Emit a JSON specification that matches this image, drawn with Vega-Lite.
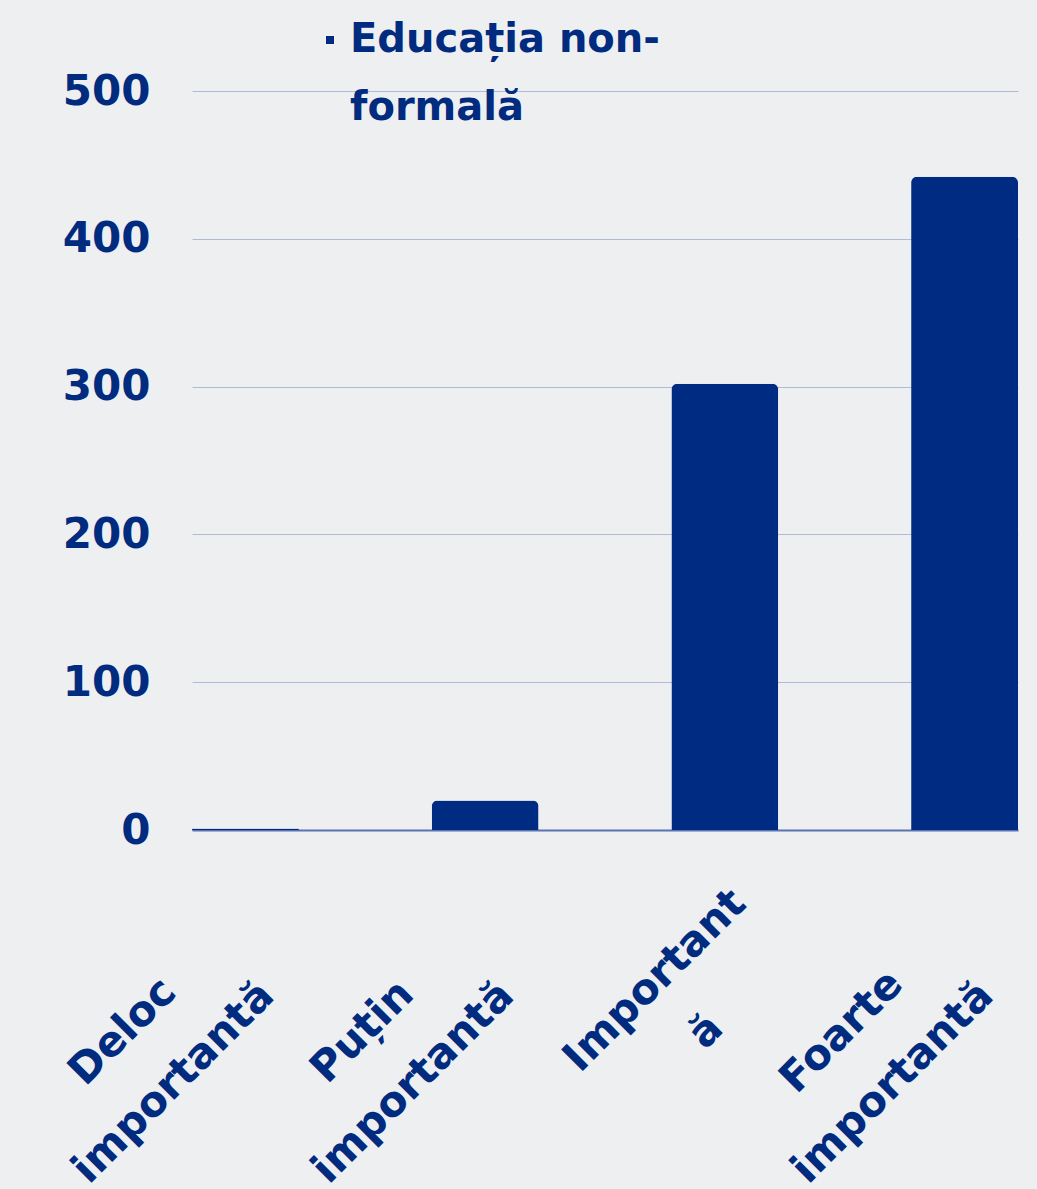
{
  "$schema": "https://vega.github.io/schema/vega-lite/v6.json",
  "width": 826,
  "height": 739,
  "autosize": {"type": "none"},
  "padding": {"left": 192, "top": 91, "right": 19, "bottom": 359},
  "background": "#eeeff1",
  "config": {"view": {"stroke": null}, "font": "DejaVu Sans"},
  "data": {
    "values": [
      {"categorie": "Deloc importantă", "serie": "Educația non-formală", "valoare": 1},
      {"categorie": "Puțin importantă", "serie": "Educația non-formală", "valoare": 20},
      {"categorie": "Importantă", "serie": "Educația non-formală", "valoare": 302},
      {"categorie": "Foarte importantă", "serie": "Educația non-formală", "valoare": 442}
    ]
  },
  "mark": {"type": "bar", "cornerRadiusTopLeft": 6, "cornerRadiusTopRight": 6},
  "encoding": {
    "x": {
      "field": "categorie",
      "type": "nominal",
      "sort": null,
      "scale": {"paddingInner": 0.554, "paddingOuter": 0, "align": 0},
      "axis": {
        "title": null,
        "domainColor": "#5A73B0",
        "domainWidth": 2,
        "ticks": false,
        "grid": false,
        "labelAngle": -45,
        "labelAlign": "center",
        "labelBaseline": "middle",
        "labelFont": "DejaVu Sans",
        "labelFontSize": 42,
        "labelFontWeight": "bold",
        "labelColor": "#002B7F",
        "labelLineHeight": 72,
        "labelOverlap": false,
        "labelBound": false,
        "labelFlush": false,
        "labelLimit": 0,
        "labelExpr": "datum.label == 'Importantă' ? ['Important', 'ă'] : split(datum.label, ' ')",
        "labelOffset": {"condition": {"test": "datum.value == 'Importantă'", "value": -70}, "value": -123},
        "labelPadding": {"condition": {"test": "datum.value == 'Importantă'", "value": 150}, "value": 201}
      }
    },
    "y": {
      "field": "valoare",
      "type": "quantitative",
      "scale": {"domain": [0, 500]},
      "axis": {
        "title": null,
        "values": [0, 100, 200, 300, 400, 500],
        "domain": false,
        "ticks": false,
        "gridColor": "#AEBAD6",
        "gridWidth": 1,
        "labelFont": "DejaVu Sans",
        "labelFontSize": 42,
        "labelFontWeight": "bold",
        "labelColor": "#002B7F",
        "labelPadding": 42
      }
    },
    "color": {
      "field": "serie",
      "type": "nominal",
      "scale": {"range": ["#002B82"]},
      "legend": {
        "orient": "none",
        "legendX": 118,
        "legendY": -71,
        "title": null,
        "padding": 0,
        "symbolType": "square",
        "symbolSize": 64,
        "symbolStrokeWidth": 0,
        "labelFont": "DejaVu Sans",
        "labelFontSize": 40,
        "labelFontWeight": "bold",
        "labelColor": "#002B7F",
        "labelBaseline": "middle",
        "labelLimit": 0,
        "labelOffset": 0,
        "labelExpr": "['Educația non-', 'formală']",
        "encode": {"labels": {"update": {"lineHeight": {"value": 68}}}}
      }
    }
  }
}
